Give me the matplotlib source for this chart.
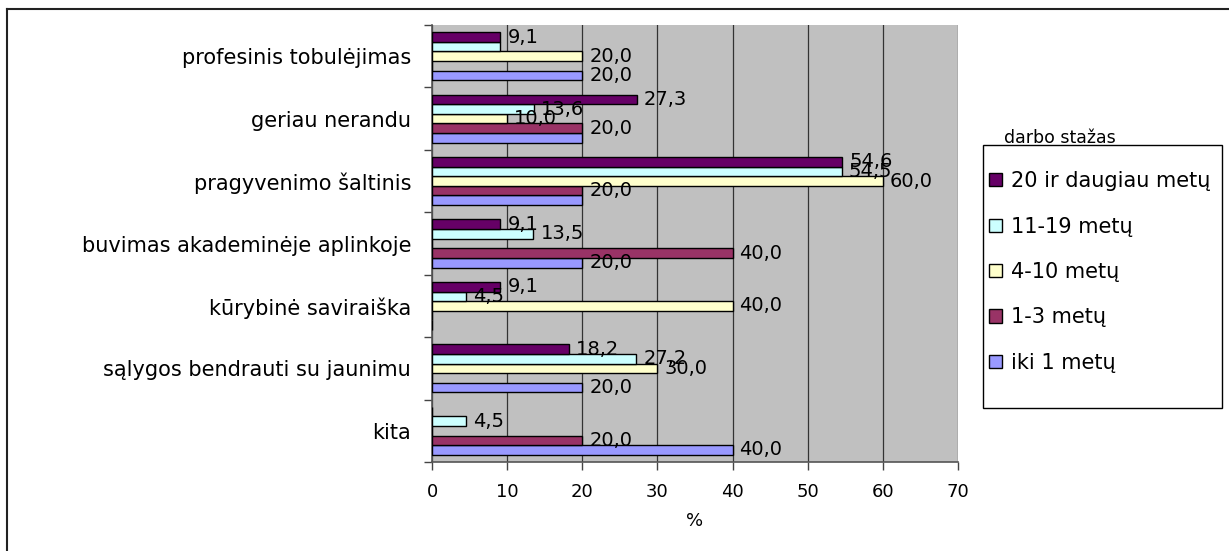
import numpy as np
import matplotlib.pyplot as plt
from matplotlib.lines import Line2D
from matplotlib.patches import Rectangle

plt.rcParams['font.family'] = ['DejaVu Sans']

categories = ['profesinis tobulėjimas', 'geriau nerandu', 'pragyvenimo šaltinis',
              'buvimas akademinėje aplinkoje', 'kūrybinė saviraiška',
              'sąlygos bendrauti su jaunimu', 'kita']

# series listed from the bottom bar of each group to the top one
series_names = ['iki 1 metų', '1-3 metų', '4-10 metų', '11-19 metų', '20 ir daugiau metų']
iki_1 = [20.0, 20.0, 20.0, 20.0, 0, 20.0, 40.0]
m_1_3 = [0, 20.0, 20.0, 40.0, 0, 0, 20.0]
m_4_10 = [20.0, 10.0, 60.0, 0, 40.0, 30.0, 0]
m_11_19 = [9.1, 13.6, 54.5, 13.5, 4.5, 27.2, 4.5]
m_20_plus = [9.1, 27.3, 54.6, 9.1, 9.1, 18.2, 0]
series = [iki_1, m_1_3, m_4_10, m_11_19, m_20_plus]
colors = ['#9999FF', '#993366', '#FFFFCC', '#CCFFFF', '#660066']

x_ticks = [0, 10, 20, 30, 40, 50, 60, 70]

W, H = 1229, 551
fig = plt.figure(figsize=(W / 100, H / 100), dpi=100)
ax = fig.add_axes([432 / W, 1 - 462 / H, 526 / W, 437 / H])
ax.set_facecolor('#C0C0C0')

y = np.arange(len(categories))
h = 1 / 6.5
bars = []
for j, (vals, col, name) in enumerate(zip(series, colors, series_names)):
    off = (2 - j) * h
    b = ax.barh(y + off, vals, height=h, color=col, edgecolor='black',
                linewidth=1, label=name, zorder=3)
    bars.append(b)
    for i, v in enumerate(vals):
        if v == 0:
            continue
        # bars that sit right under an equal neighbour share one label
        if j + 1 < len(series) and series[j + 1][i] == v:
            continue
        ax.annotate(f'{v:.1f}'.replace('.', ','), (v, y[i] + off),
                    xytext=(5, 0), textcoords='offset points',
                    va='center', ha='left', fontsize=14, zorder=4)

ax.set_xlim(0, 70)
ax.set_ylim(len(categories) - 0.5, -0.5)
ax.set_xticks(x_ticks)
ax.set_xticklabels([str(t) for t in x_ticks], fontsize=13)
ax.xaxis.grid(True, color='#333333', linewidth=0.9, zorder=1)
ax.set_axisbelow(True)
ax.set_xlabel('%', fontsize=13, labelpad=8)

# group boundaries carry the ticks, names sit at group centres
ax.set_yticks(np.arange(-0.5, len(categories)), minor=False)
ax.set_yticklabels([])
ax.set_yticks(y, minor=True)
ax.set_yticklabels(categories, minor=True, fontsize=15)
ax.tick_params(axis='y', which='major', length=6, width=1, color='#444444', direction='out')
ax.tick_params(axis='y', which='minor', length=0, pad=15)
ax.tick_params(axis='x', length=6, width=1, color='#444444', direction='out', pad=9)

for s in ['top', 'right']:
    ax.spines[s].set_visible(False)
for s in ['left', 'bottom']:
    ax.spines[s].set_color('#555555')
    ax.spines[s].set_linewidth(1.2)

# legend box
fig.add_artist(Rectangle((983 / W, 1 - 408 / H), 239 / W, 263 / H,
                         transform=fig.transFigure, facecolor='white',
                         edgecolor='black', linewidth=1, zorder=1))
leg = fig.legend(bars[::-1], series_names[::-1], loc='center left',
                 bbox_to_anchor=(989 / W, 1 - 272 / H), borderaxespad=0,
                 fontsize=15, frameon=False,
                 handlelength=0.6, handleheight=0.6, handletextpad=0.45,
                 labelspacing=1.22, borderpad=0)
leg.set_zorder(5)

fig.text(1060 / W, 1 - 138 / H, 'darbo stažas', fontsize=12.5,
         ha='center', va='center')

# outer chart border (left and top edges)
fig.add_artist(Line2D([7 / W, 7 / W], [0, 1 - 9 / H], transform=fig.transFigure,
                      color='#222222', linewidth=1.5))
fig.add_artist(Line2D([7 / W, 1], [1 - 9 / H, 1 - 9 / H], transform=fig.transFigure,
                      color='#222222', linewidth=1.5))

fig.savefig('out.png', dpi=100)
